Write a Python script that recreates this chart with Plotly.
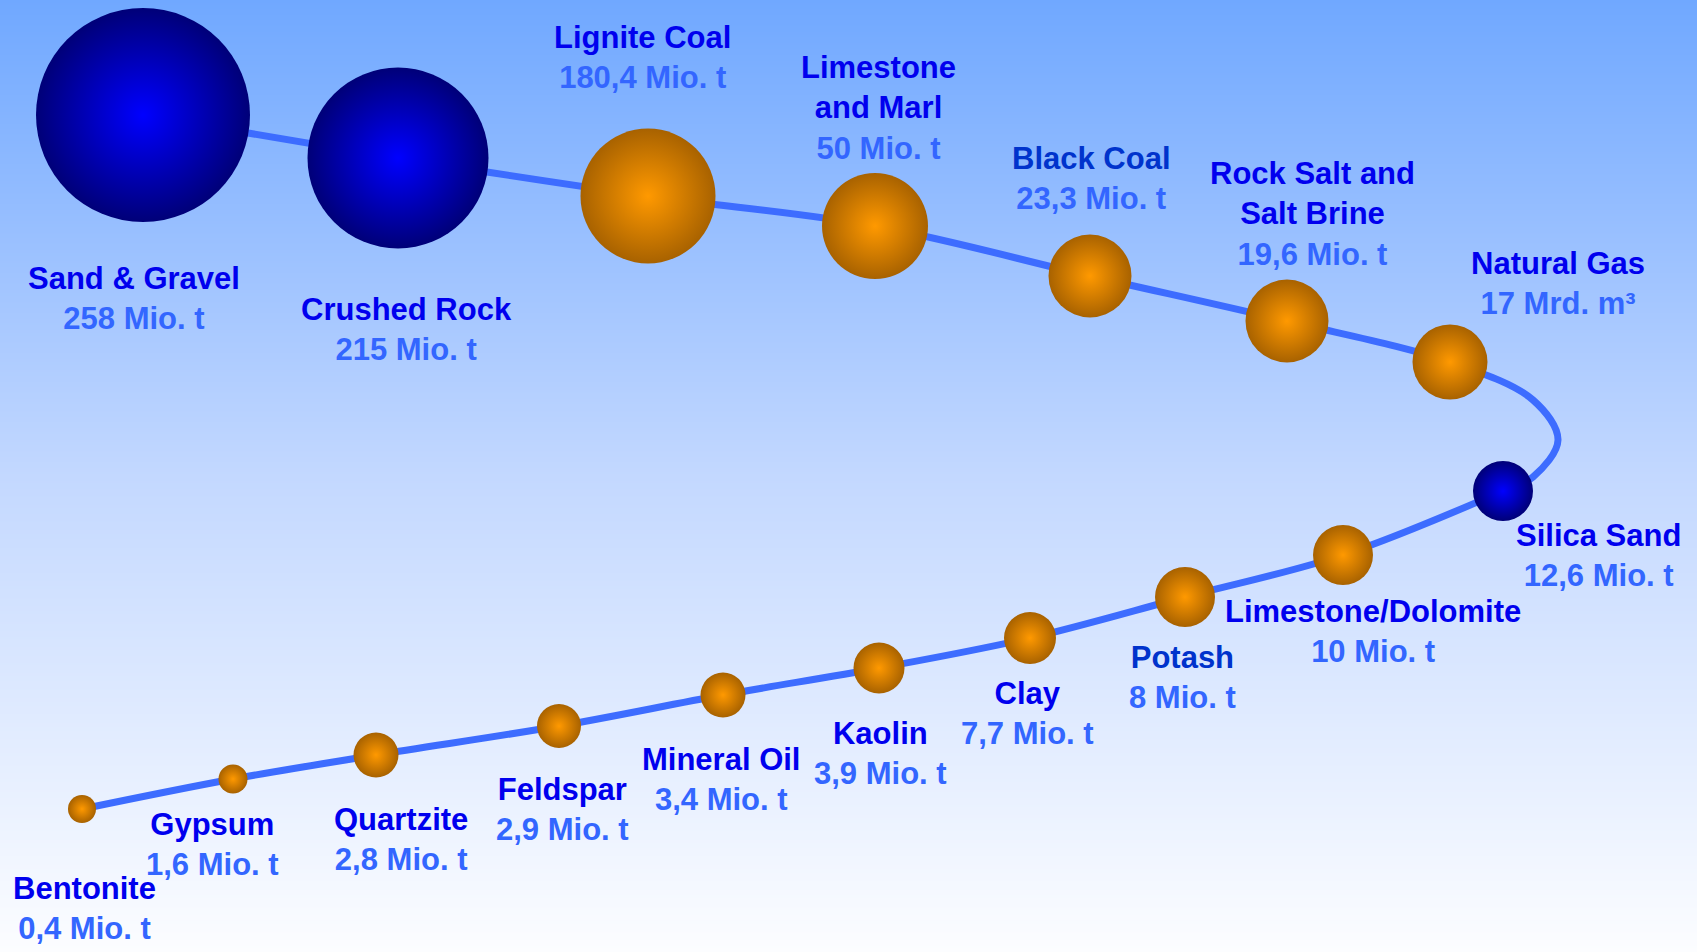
import numpy as np
import plotly.graph_objects as go

# ---- data ----
minerals = ["Sand & Gravel", "Crushed Rock", "Lignite Coal", "Limestone<br>and Marl",
            "Black Coal", "Rock Salt and<br>Salt Brine", "Natural Gas", "Silica Sand",
            "Limestone/Dolomite", "Potash", "Clay", "Kaolin", "Mineral Oil",
            "Feldspar", "Quartzite", "Gypsum", "Bentonite"]
amounts = [258, 215, 180.4, 50, 23.3, 19.6, 17, 12.6, 10, 8, 7.7, 3.9, 3.4, 2.9, 2.8, 1.6, 0.4]
units = ["Mio. t"] * 6 + ["Mrd. m³"] + ["Mio. t"] * 10
kinds = ["blue", "blue", "orange", "orange", "orange", "orange", "orange", "blue",
         "orange", "orange", "orange", "orange", "orange", "orange", "orange", "orange", "orange"]

# ---- layout placement (pixel space of the infographic) ----
W, H = 1697, 952
cx = [143, 398, 648, 875, 1090, 1287, 1450, 1503, 1343, 1185, 1030, 879, 723, 559, 376, 233, 82]
cy = [115, 158, 196, 226, 276, 321, 362, 491, 555, 597, 638, 668, 695, 726, 755, 779, 809]
diam = [214, 181, 135, 106, 83, 83, 75, 60, 60, 60, 52, 51, 45, 44, 45, 29, 28]
label_x = [134, 406, 642, 878, 1091, 1312, 1558, 1598, 1373, 1182, 1027, 880, 721, 562, 401, 212, 84]
label_top = [267, 298, 26, 56, 147, 162, 252, 524, 600, 646, 682, 722, 748, 778, 808, 813, 877]
name_colors = ["#0000EE"] * 17
name_colors[4] = "#0033CC"
name_colors[9] = "#0033CC"
# extra bend points of the connecting line between Natural Gas and Silica Sand
bend_x = [1533, 1558, 1533]
bend_y = [400, 440, 477]

center_col = {"blue": "#0000FF", "orange": "#FF9900"}
edge_col = {"blue": "#000078", "orange": "#A86200"}

FONT = "Liberation Sans, Arial, sans-serif"

fig = go.Figure()

# background gradient
gy = np.linspace(0, H, 60)
gz = [[v / H, v / H] for v in gy]
fig.add_trace(go.Heatmap(
    x=[0, W], y=gy, z=gz, zsmooth="best", showscale=False, hoverinfo="skip",
    zmin=0, zmax=1,
    colorscale=[[0, "#70A8FF"], [0.5, "#C3D8FF"], [1, "#FCFDFF"]],
))

# connecting line
px_ = cx[:7] + bend_x + cx[7:]
py_ = cy[:7] + bend_y + cy[7:]
fig.add_trace(go.Scatter(
    x=px_, y=py_, mode="lines", hoverinfo="skip",
    line=dict(color="#3D6CFF", width=7, shape="spline", smoothing=1.0),
))

# spheres (marker.color = rim, gradient.color = centre)
fig.add_trace(go.Scatter(
    x=cx, y=cy, mode="markers", hoverinfo="skip",
    marker=dict(
        size=diam, sizemode="diameter",
        color=[edge_col[k] for k in kinds],
        gradient=dict(type="radial", color=[center_col[k] for k in kinds]),
        line=dict(width=0),
        opacity=1,
    ),
))

def fmt(v):
    return f"{v:g}".replace(".", ",")

for i, name in enumerate(minerals):
    txt = (f"<b>{name}</b><br><b><span style='color:#3366FF'>"
           f"{fmt(amounts[i])} {units[i]}</span></b>")
    fig.add_annotation(
        x=label_x[i], y=label_top[i] - 8, xref="x", yref="y",
        text=txt, showarrow=False, xanchor="center", yanchor="top", align="center",
        font=dict(family=FONT, size=31, color=name_colors[i]),
    )

fig.update_layout(
    width=W, height=H, margin=dict(l=0, r=0, t=0, b=0),
    showlegend=False, paper_bgcolor="white", plot_bgcolor="white",
    xaxis=dict(range=[0, W], visible=False, fixedrange=True),
    yaxis=dict(range=[H, 0], visible=False, fixedrange=True),
)

fig.write_html("out.html", config={"displayModeBar": False},
               post_script="document.body.style.margin='0';")
